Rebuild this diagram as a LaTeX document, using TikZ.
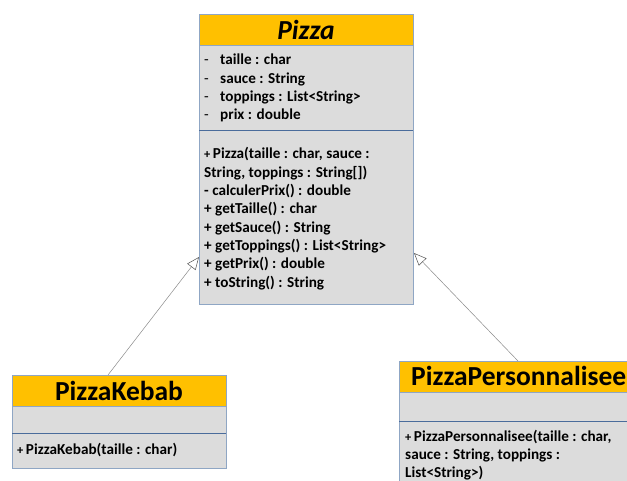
\documentclass[tikz,border=0pt]{standalone}
\usepackage{fontspec}
\setmainfont{Carlito}
\usetikzlibrary{arrows.meta}
\definecolor{hdrgold}{HTML}{FFC000}
\definecolor{bodygray}{HTML}{DCDCDC}
\definecolor{edgeblue}{HTML}{8FA6C4}
\definecolor{sepblue}{HTML}{4A6C9B}
\definecolor{linkgray}{HTML}{8A8A8A}
\definecolor{tipgray}{HTML}{505050}
\newcommand{\smallplus}{{\fontsize{12.5}{13}\selectfont+}\,}
\newcommand{\attrdash}{\makebox[16pt][l]{\mdseries-}}
\begin{document}
\begin{tikzpicture}[x=1pt,y=-1pt,
  box/.style={draw=edgeblue, line width=0.8pt, inner sep=0pt, outer sep=0pt, anchor=north west},
  hdr/.style={box, fill=hdrgold},
  part/.style={box, fill=bodygray},
  title/.style={inner sep=0pt, anchor=base, font=\fontsize{27.5}{30}\selectfont\bfseries},
  member/.style={anchor=base west, inner sep=0pt, font=\fontsize{15.2}{18}\selectfont\bfseries},
  sep/.style={draw=sepblue, line width=0.8pt},
  inherit/.style={draw=linkgray, line width=0.5pt,
    -{Triangle[open, length=12.5pt, width=10.5pt, color=tipgray]}},
]
\useasboundingbox (0,0) rectangle (627,481);
\clip (0,0) rectangle (627,481);

% ---- class Pizza ----
\node[hdr,  minimum width=214pt, minimum height=31pt] (pizzaH) at (199,14) {};
\node[part, minimum width=214pt, minimum height=85pt] (pizzaA) at (199,45) {};
\node[part, minimum width=214pt, minimum height=174pt] (pizzaM) at (199,130) {};
\draw[sep] (pizzaM.north west) -- (pizzaM.north east);
\node[title, font=\fontsize{27.5}{30}\selectfont\bfseries\itshape] (pizzaT) at (306,39.5) {Pizza};
\foreach \t [count=\i] in {taille : char, sauce : String, toppings : List<String>, prix : double}
  \node[member] (pa\i) at (204,65+18.3*\i-18.3) {\attrdash\t};
\foreach \t [count=\i] in {{\smallplus Pizza(taille : char, sauce :},
    {String, toppings : String[])},
    {- calculerPrix() : double},
    {+ getTaille() : char},
    {+ getSauce() : String},
    {+ getToppings() : List<String>},
    {+ getPrix() : double},
    {+ toString() : String}}
  \node[member] (pm\i) at (204,159+18.3*\i-18.3) {\t};

% ---- class PizzaKebab ----
\node[hdr,  minimum width=214pt, minimum height=31pt] (kebabH) at (12,375) {};
\node[part, minimum width=214pt, minimum height=27pt] (kebabA) at (12,406) {};
\node[part, minimum width=214pt, minimum height=35pt] (kebabM) at (12,433) {};
\draw[sep] (kebabM.north west) -- (kebabM.north east);
\node[title] (kebabT) at (119,400) {PizzaKebab};
\node[member] (km1) at (17,454) {\smallplus PizzaKebab(taille : char)};

% ---- class PizzaPersonnalisee ----
\node[hdr,  minimum width=240pt, minimum height=31pt] (persoH) at (399,361) {};
\node[part, minimum width=240pt, minimum height=29pt] (persoA) at (399,392) {};
\node[part, minimum width=240pt, minimum height=70pt] (persoM) at (399,421) {};
\draw[sep] (persoM.north west) -- (persoM.north east);
\node[title, anchor=base west] (persoT) at (411,385) {PizzaPersonnalisee};
\node[member] (qm1) at (405,441) {\smallplus PizzaPersonnalisee(taille : char,};
\node[member] (qm2) at (405,459.3) {sauce : String, toppings :};
\node[member] (qm3) at (405,477.6) {List<String>)};

% ---- generalisation links ----
\coordinate (kebabLink) at (108,375);
\coordinate (pizzaLeft) at (199,257);
\coordinate (persoLink) at (518,361);
\coordinate (pizzaRight) at (414,253);
\draw[inherit] (kebabLink) -- (pizzaLeft);
\draw[inherit] (persoLink) -- (pizzaRight);
\end{tikzpicture}
\end{document}
